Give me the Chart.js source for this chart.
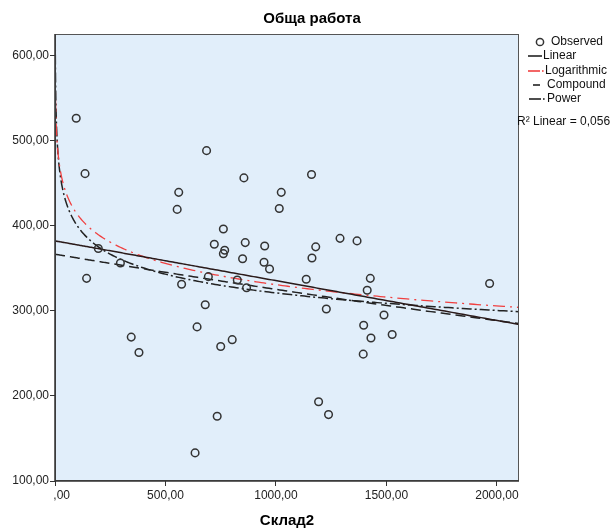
<!DOCTYPE html>
<html>
<head>
<meta charset="utf-8">
<title>Обща работа</title>
<script src="https://cdn.jsdelivr.net/npm/chart.js@4.4.1/dist/chart.umd.min.js"></script>
<style>
    body { margin: 0; background: #fff; }
    #wrap { width: 613px; height: 531px; }
</style>
</head>
<body>
<div id="wrap"><canvas id="chart" width="613" height="531"></canvas></div>
<script>
const skladX = [96, 136, 686, 855, 1024, 560, 553, 1015, 762, 196,
    721, 768, 762, 861, 949, 849, 946, 971, 296, 143,
    573, 694, 825, 867, 1161, 1290, 1367, 1180, 1163, 1137,
    1427, 1413, 1967, 680, 643, 345, 380, 802, 750, 734,
    634, 1228, 1489, 1397, 1430, 1526, 1395, 1193, 1238];
const rabotaY = [526, 461, 488, 456, 439, 439, 419, 420, 396, 373,
    378, 371, 367, 380, 376, 361, 357, 349, 356, 338,
    331, 340, 336, 327, 460, 385, 382, 375, 362, 337,
    338, 324, 332, 307, 281, 269, 251, 266, 258, 176,
    133, 302, 295, 283, 268, 272, 249, 193, 178];

const yTicks = [100, 200, 300, 400, 500, 600];
const xTicks = [0, 500, 1000, 1500, 2000];
const legendLabels = ['Observed', 'Linear', 'Logarithmic', 'Compound', 'Power'];
const r2Text = 'R\u00B2 Linear = 0,056';

const FONT = '"Liberation Sans", Arial, sans-serif';

// simple least squares on transformed values
function ols(xs, ys) {
    const n = xs.length;
    let sx = 0, sy = 0, sxx = 0, sxy = 0;
    for (let i = 0; i < n; i++) {
        sx += xs[i]; sy += ys[i];
        sxx += xs[i] * xs[i]; sxy += xs[i] * ys[i];
    }
    const b = (n * sxy - sx * sy) / (n * sxx - sx * sx);
    return { a: (sy - b * sx) / n, b };
}

const lnX = skladX.map(v => Math.log(v));
const lnY = rabotaY.map(v => Math.log(v));
const linFit = ols(skladX, rabotaY);
const logFit = ols(lnX, rabotaY);
const cmpFit = ols(skladX, lnY);
const powFit = ols(lnX, lnY);

// x positions where the fitted curves are evaluated
const curveX = [];
for (let i = 0; i <= 240; i++) {
    curveX.push(Math.max(0.5, 2100 * Math.pow(i / 240, 2)));
}

function curve(fn) {
    return curveX.map(x => ({ x, y: fn(x) }));
}

const points = skladX.map((x, i) => ({ x, y: rabotaY[i] }));

function comma(v) {
    if (v === 0) return '    ,00';
    return v.toFixed(2).replace('.', ',');
}

const frame = {
    id: 'frame',
    beforeDatasetsDraw(chart) {
        const { ctx, chartArea: a } = chart;
        ctx.save();
        ctx.fillStyle = '#e1eefa';
        ctx.fillRect(a.left, a.top, a.right - a.left, a.bottom - a.top);
        ctx.restore();
    },
    afterDraw(chart) {
        const { ctx, chartArea: a } = chart;
        ctx.save();
        ctx.strokeStyle = '#555';
        ctx.lineWidth = 1;
        ctx.strokeRect(a.left + 0.5, a.top + 0.5, a.right - a.left - 1, a.bottom - a.top - 1);
        ctx.strokeStyle = '#333';
        ctx.lineWidth = 1.5;
        ctx.beginPath();
        ctx.moveTo(a.left, a.top);
        ctx.lineTo(a.left, a.bottom);
        ctx.lineTo(a.right, a.bottom);
        ctx.stroke();

        // title
        ctx.fillStyle = '#000';
        ctx.font = 'bold 15px ' + FONT;
        ctx.textAlign = 'center';
        ctx.textBaseline = 'middle';
        ctx.fillText('Обща работа', 312, 19);

        // legend
        ctx.font = '12px ' + FONT;
        ctx.textAlign = 'left';
        const rows = [42, 56, 71, 85, 99];
        const textX = [551, 543, 545, 547, 547];
        rows.forEach((y, i) => {
            ctx.fillStyle = '#111';
            ctx.fillText(legendLabels[i], textX[i], y);
        });
        ctx.lineWidth = 1.5;
        ctx.strokeStyle = '#333';
        ctx.beginPath();
        ctx.arc(540, 42, 3.6, 0, Math.PI * 2);
        ctx.stroke();
        ctx.lineWidth = 1.6;
        ctx.strokeStyle = '#222';
        ctx.beginPath(); ctx.moveTo(528, 56); ctx.lineTo(542, 56); ctx.stroke();
        ctx.strokeStyle = '#f04040';
        ctx.beginPath(); ctx.moveTo(528, 71); ctx.lineTo(540, 71); ctx.stroke();
        ctx.fillStyle = '#f04040';
        ctx.fillRect(542, 70.2, 1.6, 1.6);
        ctx.strokeStyle = '#222';
        ctx.beginPath(); ctx.moveTo(533, 85); ctx.lineTo(540, 85); ctx.stroke();
        ctx.beginPath(); ctx.moveTo(529, 99); ctx.lineTo(541, 99); ctx.stroke();
        ctx.fillStyle = '#222';
        ctx.fillRect(543, 98.2, 1.6, 1.6);

        ctx.fillStyle = '#111';
        ctx.fillText(r2Text, 517, 122);
        ctx.restore();
    }
};

new Chart(document.getElementById('chart'), {
    type: 'scatter',
    data: {
        datasets: [
            {
                label: 'Observed',
                data: points,
                pointStyle: 'circle',
                pointRadius: 3.8,
                pointBorderWidth: 1.5,
                borderColor: '#333',
                backgroundColor: 'rgba(0,0,0,0)'
            },
            {
                label: 'Linear',
                type: 'line',
                data: curve(x => linFit.a + linFit.b * x),
                borderColor: '#2a1a1a',
                borderWidth: 1.5,
                pointRadius: 0
            },
            {
                label: 'Logarithmic',
                type: 'line',
                data: curve(x => logFit.a + logFit.b * Math.log(x)),
                borderColor: '#f04040',
                borderWidth: 1.3,
                borderDash: [12, 5, 2, 5],
                pointRadius: 0
            },
            {
                label: 'Compound',
                type: 'line',
                data: curve(x => Math.exp(cmpFit.a + cmpFit.b * x)),
                borderColor: '#222',
                borderWidth: 1.5,
                borderDash: [10, 5],
                pointRadius: 0
            },
            {
                label: 'Power',
                type: 'line',
                data: curve(x => Math.exp(powFit.a + powFit.b * Math.log(x))),
                borderColor: '#222',
                borderWidth: 1.5,
                borderDash: [10, 3, 2, 3],
                pointRadius: 0
            }
        ]
    },
    options: {
        responsive: false,
        animation: false,
        layout: { padding: { left: 0, top: 34, right: 94, bottom: 0 } },
        plugins: {
            legend: { display: false },
            title: { display: false },
            tooltip: { enabled: false }
        },
        scales: {
            x: {
                type: 'linear',
                min: 0,
                max: 2100,
                afterBuildTicks: s => { s.ticks = xTicks.map(v => ({ value: v })); },
                afterFit: s => { s.height = 50; },
                grid: { drawOnChartArea: false, drawTicks: true, tickLength: 5, color: '#333' },
                border: { display: false },
                ticks: {
                    padding: 2,
                    color: '#222',
                    font: { family: FONT, size: 12 },
                    callback: v => comma(v),
                    maxRotation: 0
                },
                title: {
                    display: true,
                    text: 'Склад2',
                    color: '#000',
                    font: { family: FONT, size: 15, weight: 'bold' },
                    padding: { top: 0, bottom: 1 }
                }
            },
            y: {
                type: 'linear',
                min: 100,
                max: 625,
                afterBuildTicks: s => { s.ticks = yTicks.map(v => ({ value: v })); },
                afterFit: s => { s.width = 55; },
                grid: { drawOnChartArea: false, drawTicks: true, tickLength: 5, color: '#333' },
                border: { display: false },
                ticks: {
                    padding: 1,
                    color: '#222',
                    font: { family: FONT, size: 12 },
                    callback: v => comma(v)
                }
            }
        }
    },
    plugins: [frame]
});
</script>
</body>
</html>
